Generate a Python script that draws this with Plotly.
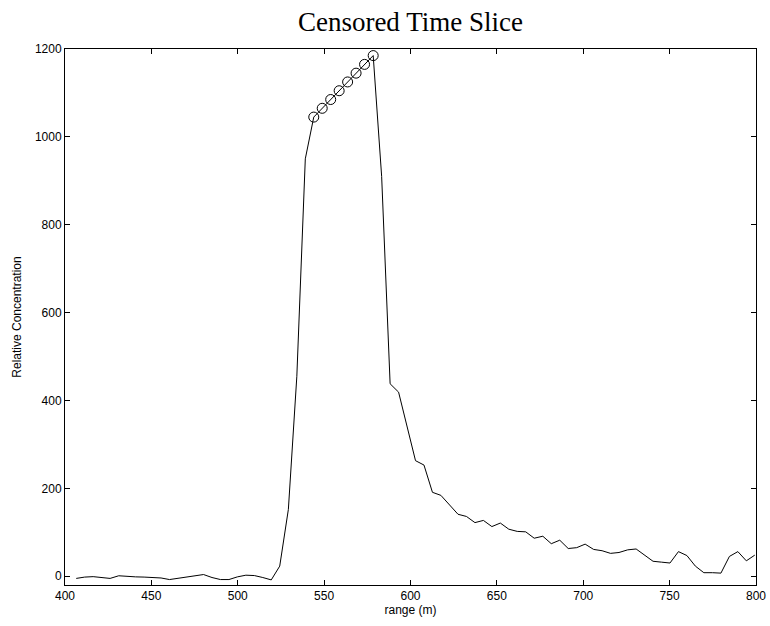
import plotly.graph_objects as go

range_m = [406.5, 411.4, 416.3, 421.2, 426.1, 431.1, 436.0, 440.9, 445.8, 450.7,
           455.6, 460.5, 465.4, 470.3, 475.2, 480.2, 485.1, 490.0, 494.9, 499.8,
           504.7, 509.6, 514.5, 519.4, 524.3, 529.3, 534.2, 539.1, 544.0, 548.9,
           553.8, 558.7, 563.6, 568.5, 573.4, 578.4, 583.3, 588.2, 593.1, 598.0,
           602.9, 607.8, 612.7, 617.6, 622.5, 627.5, 632.4, 637.3, 642.2, 647.1,
           652.0, 656.9, 661.8, 666.7, 671.6, 676.6, 681.5, 686.4, 691.3, 696.2,
           701.1, 706.0, 710.9, 715.8, 720.7, 725.7, 730.6, 735.5, 740.4, 745.3,
           750.2, 755.1, 760.0, 764.9, 769.8, 774.8, 779.7, 784.6, 789.5, 794.4,
           799.3]
concentration = [-5, -2, -1, -3, -5, 1, -1, -1.5, -2, -3,
                 -4, -7.6, -4.6, -1.5, 2.3, 3.8, -3, -7.6, -7.6, -1.5,
                 2.3, 1.5, -3, -8.4, 23, 152, 455, 950, 1045, 1065,
                 1085, 1105, 1125, 1145, 1165, 1185, 910, 438, 419, 340,
                 263, 253, 191, 184, 163, 141, 136, 122, 127, 113,
                 121, 107, 102, 101, 86.5, 91, 74, 82, 63, 65,
                 73, 61, 58, 52, 54, 60, 62, 49, 34, 32,
                 30, 56, 47, 23, 8, 8, 7, 45, 56, 35,
                 48]
censored_idx = [28, 29, 30, 31, 32, 33, 34, 35]

cens_x = [range_m[i] for i in censored_idx]
cens_y = [concentration[i] for i in censored_idx]

fig = go.Figure()
fig.add_trace(go.Scatter(x=range_m, y=concentration, mode="lines",
                         line=dict(color="black", width=1), showlegend=False))
fig.add_trace(go.Scatter(x=cens_x, y=cens_y, mode="markers",
                         marker=dict(symbol="circle-open", size=10,
                                     color="black", line=dict(width=1)),
                         showlegend=False))

axis_common = dict(showline=True, linecolor="black", linewidth=1, mirror="ticks",
                   ticks="inside", ticklen=5, tickcolor="black", showgrid=False,
                   zeroline=False, automargin=False,
                   tickfont=dict(family="Liberation Sans, Arial", size=12, color="black"))

fig.update_layout(
    width=770, height=626,
    paper_bgcolor="white", plot_bgcolor="white",
    margin=dict(l=65, r=14, t=49, b=41),
    title=dict(text="Censored Time Slice", x=0.533, xanchor="center", y=0.965, yanchor="middle",
               font=dict(family="Liberation Serif, DejaVu Serif", size=27, color="black")),
    xaxis=dict(range=[400, 800], tickvals=[400, 450, 500, 550, 600, 650, 700, 750, 800],
               title=dict(text="range (m)", standoff=2,
                          font=dict(family="Liberation Sans, Arial", size=12, color="black")),
               **axis_common),
    yaxis=dict(range=[-20, 1200], tickvals=[0, 200, 400, 600, 800, 1000, 1200],
               title=dict(text="Relative Concentration", standoff=10,
                          font=dict(family="Liberation Sans, Arial", size=12, color="black")),
               **axis_common),
)

post = ("document.body.style.margin='0';"
        "document.body.style.overflow='hidden';"
        "var gd=document.getElementById('{plot_id}');"
        "Plotly.relayout(gd,{width:770,height:626});")

fig.write_html("out.html", config={"displayModeBar": False, "responsive": False},
               post_script=post)
